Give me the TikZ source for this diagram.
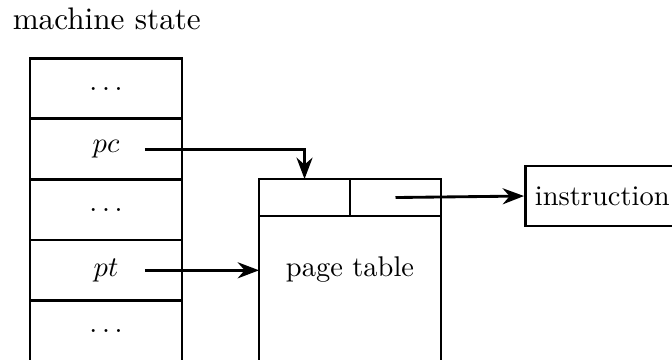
\documentclass[tikz,border=0pt]{standalone}
\usetikzlibrary{arrows.meta, positioning, calc}

\begin{document}
\begin{tikzpicture}[>=Stealth, line width=1pt,
    cell/.style={draw, minimum width=1.877cm, minimum height=0.748cm, inner sep=0pt, outer sep=0pt},
    ptcell/.style={draw, minimum width=1.123cm, minimum height=0.457cm, inner sep=0pt, outer sep=0pt}]
    % Frame of the figure (the lower parts run off the bottom)
    \useasboundingbox (0,0) rectangle (8.296,-4.444);
    \clip (0,0) rectangle (8.296,-4.444);

    % Machine state column
    \node[anchor=base west, inner sep=0pt, font=\fontsize{10.95}{13}\selectfont] (title) at (0.14,-0.36) {machine state};
    \node[cell] (s1) at (1.309,-1.093) {$\dots$};
    \node[cell, below=0pt of s1] (s2) {$pc$};
    \node[cell, below=0pt of s2] (s3) {$\dots$};
    \node[cell, below=0pt of s3] (s4) {$pt$};
    \node[cell, below=0pt of s4] (s5) {$\dots$};
    \node[cell, below=0pt of s5] (s6) {};

    % Page table with its first entry
    \node[ptcell, anchor=north west] (ptl) at (3.198,-2.21) {};
    \node[ptcell, right=0pt of ptl] (ptr) {};
    \node[draw, anchor=north west, minimum width=2.246cm, minimum height=2.4cm,
          outer sep=0pt] (ptbody) at (ptl.south west) {};
    \node (ptlabel) at ($(ptbody.north)+(0,-0.666)$) {page table};

    % Instruction
    \node[draw, anchor=west, minimum height=0.741cm] (instr) at (6.469,-2.42) {instruction};

    % Pointers
    \coordinate (pcptr) at ($(s2.center)+(0.48,0)$);
    \coordinate (ptptr) at ($(s4.center)+(0.48,0)$);
    \draw[->] (pcptr) -| (ptl.north);
    \draw[->] (ptptr) -- (ptptr -| ptbody.west);
    \draw[->] (ptr.center) -- (instr.west);
\end{tikzpicture}
\end{document}
